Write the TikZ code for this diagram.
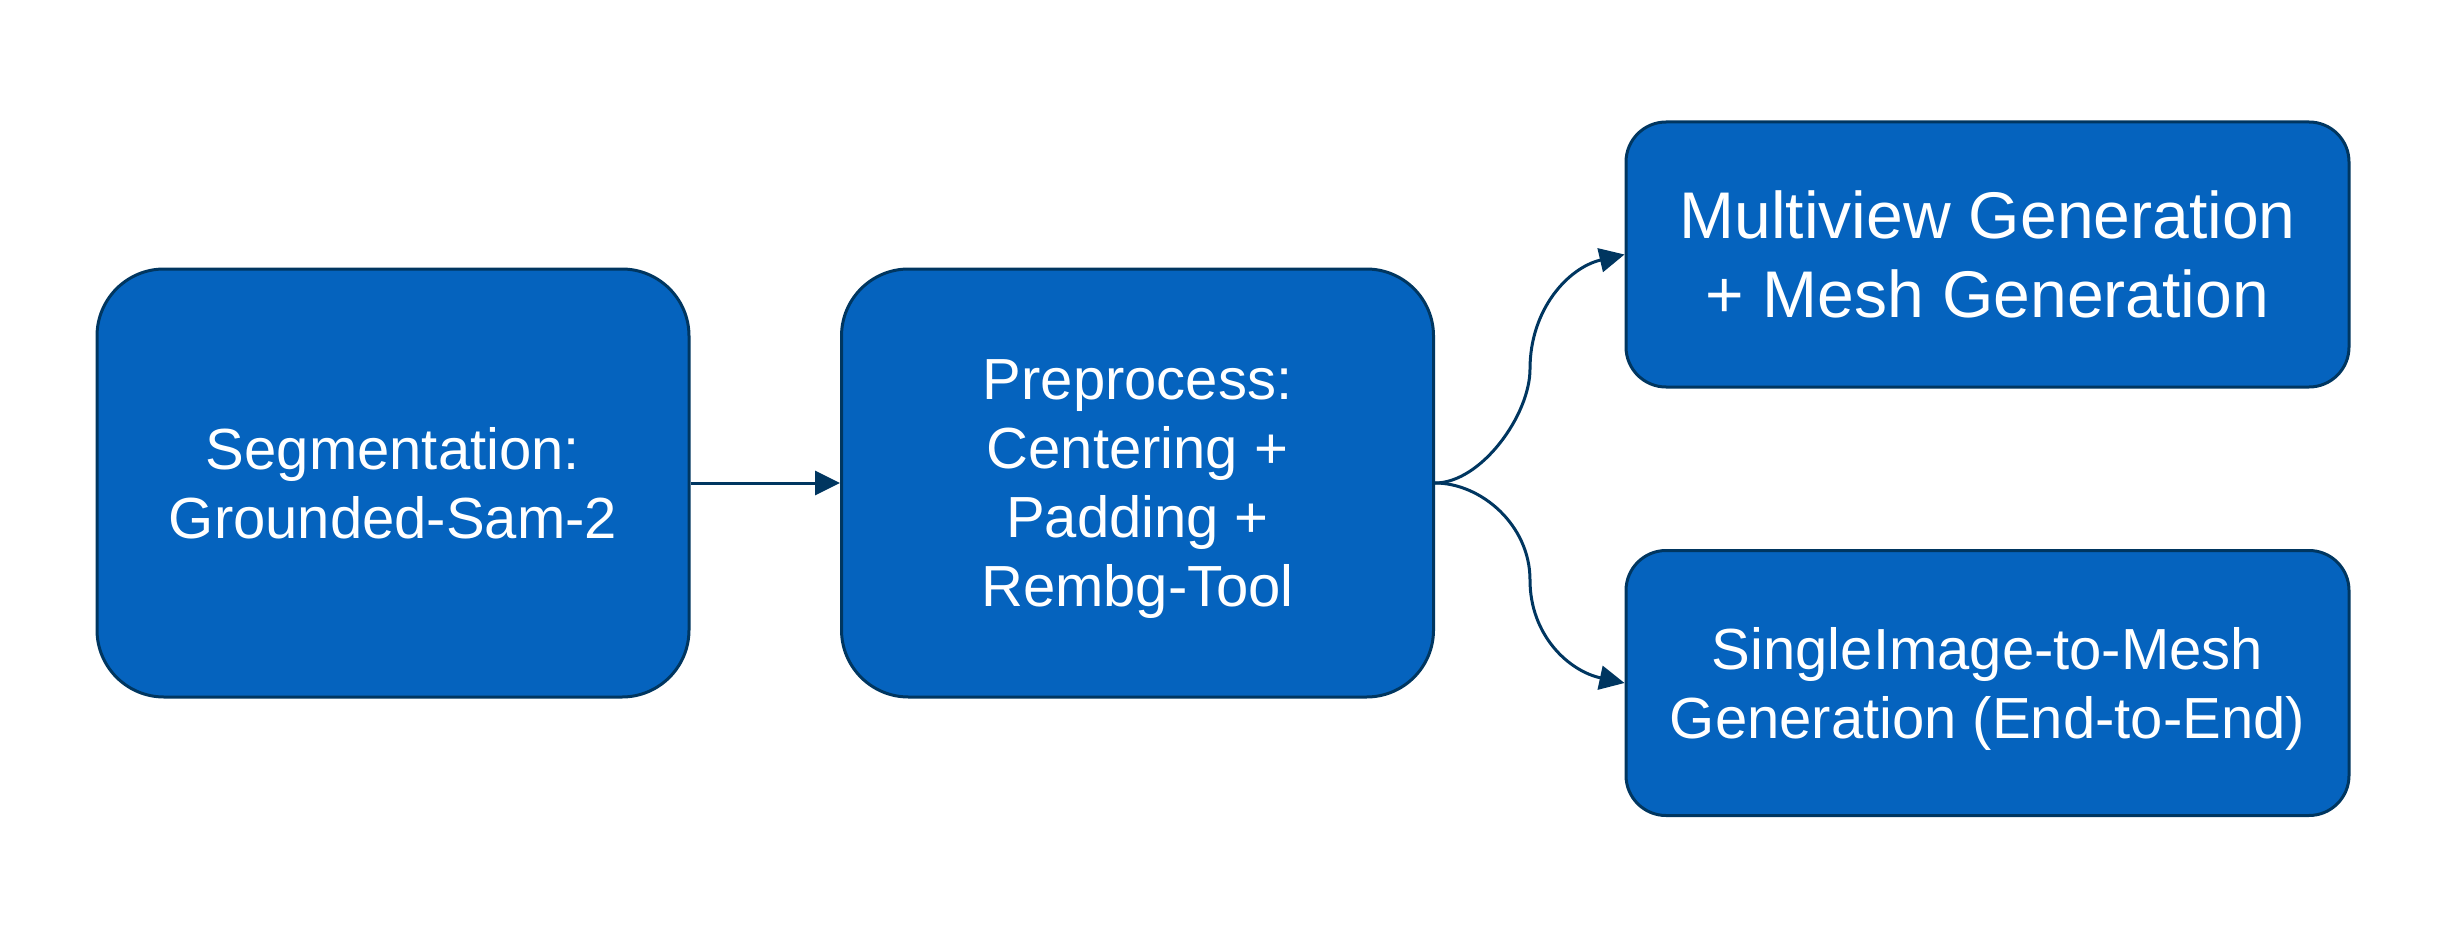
\documentclass[tikz,border=0pt]{standalone}
\usepackage{fontspec}
\setmainfont{Liberation Sans}
\usetikzlibrary{arrows.meta}
\definecolor{boxfill}{RGB}{5,99,190}
\definecolor{boxline}{RGB}{0,54,96}
\tikzset{
  stagebox/.style={draw=boxline, fill=boxfill, line width=3pt, text=white,
    align=center, inner sep=0pt, rectangle},
  bigbox/.style={stagebox, rounded corners=67pt, minimum width=592pt, minimum height=428pt,
    font=\fontsize{58}{69}\selectfont},
  smallbox/.style={stagebox, rounded corners=40pt, minimum width=723pt, minimum height=265pt},
  conn/.style={draw=boxline, line width=3pt, -{Triangle[length=25pt,width=24pt]}},
}
\begin{document}
\begin{tikzpicture}[x=1pt,y=-1pt]
\useasboundingbox (0,0) rectangle (2456,936);
\node[bigbox] (seg) at (393,483) {Segmentation:\\Grounded-Sam-2};
\node[bigbox] (pre) at (1137.5,483) {Preprocess:\\Centering +\\Padding +\\\smash{Rembg-Tool}};
\node[smallbox, font=\fontsize{66}{79}\selectfont] (multi) at (1987.5,254.5) {Multiview Generation\\+ Mesh Generation};
\node[smallbox, font=\fontsize{58}{69}\selectfont] (single) at (1987.5,683) {SingleImage-to-Mesh\\\smash{Generation (End-to-End)}};
\coordinate (mtop) at (1530,369);
\coordinate (mbot) at (1530,580);
\draw[conn] (seg.east) -- (pre.west);
\draw[conn] (pre.east) .. controls +(46,0) and +(0,46) .. (mtop)
  .. controls +(0,-60) and +(-56,13) .. (multi.west);
\draw[conn] (pre.east) .. controls +(46,0) and +(0,-55) .. (mbot)
  .. controls +(0,55) and +(-56,-12) .. (single.west);
\end{tikzpicture}
\end{document}
